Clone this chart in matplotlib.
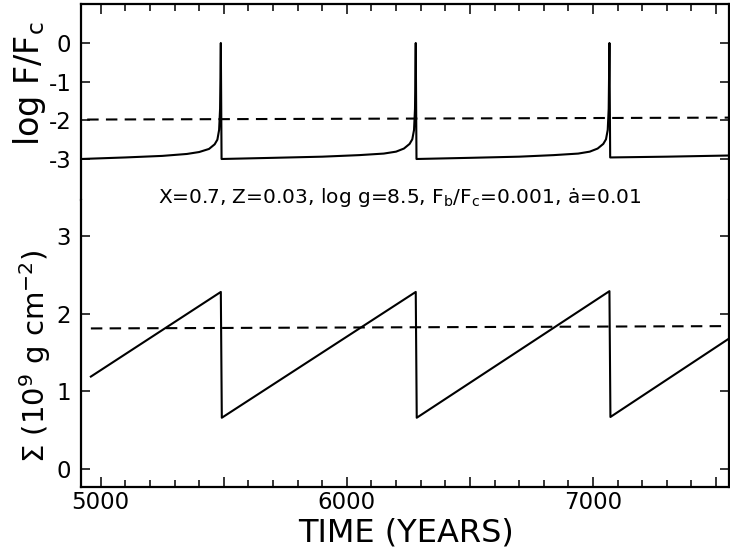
import matplotlib
matplotlib.use("Agg")
from matplotlib import pyplot as plt
from matplotlib.ticker import MultipleLocator, FuncFormatter

# log F/Fc (years, value)
flux_time = [4920, 5100, 5250, 5350, 5400, 5440, 5463, 5474, 5481, 5485, 5488, 5491,
             5700, 5900, 6050, 6150, 6200, 6232, 6255, 6266, 6273, 6277, 6280, 6283,
             6500, 6700, 6840, 6940, 6987, 7019, 7042, 7053, 7060, 7064, 7067, 7070,
             7300, 7553]
flux_log = [-3.00, -2.96, -2.92, -2.87, -2.82, -2.74, -2.62, -2.50, -2.25, -1.70, 0.00, -3.00,
            -2.97, -2.94, -2.90, -2.86, -2.81, -2.73, -2.61, -2.49, -2.25, -1.70, 0.00, -3.00,
            -2.97, -2.94, -2.90, -2.86, -2.81, -2.73, -2.61, -2.49, -2.25, -1.70, 0.00, -2.96,
            -2.94, -2.91]
flux_mean_time = [4945, 7553]
flux_mean = [-1.98, -1.93]

# column density Sigma (1e9 g cm^-2)
sigma_time = [4960, 5488, 5492, 6280, 6284, 7067, 7071, 7553]
sigma = [1.19, 2.28, 0.66, 2.28, 0.66, 2.29, 0.67, 1.68]
sigma_mean_time = [4960, 7553]
sigma_mean = [1.81, 1.84]

top_ticks = [0, -1, -2, -3]
bottom_ticks = [0, 1, 2, 3]
x_range = (4920, 7553)

note = "X=0.7, Z=0.03, log g=8.5, F$_\\mathregular{b}$/F$_\\mathregular{c}$=0.001, ȧ=0.01"


def style_axis(ax, top):
    ax.set_xlim(*x_range)
    ax.xaxis.set_major_locator(MultipleLocator(500))
    ax.xaxis.set_minor_locator(MultipleLocator(100))
    ax.xaxis.set_major_formatter(FuncFormatter(lambda v, p: "%d" % v if v % 1000 == 0 else ""))
    for s in ax.spines.values():
        s.set_linewidth(1.6)
    ax.tick_params(axis="both", which="both", direction="in", width=1.1,
                   labelsize=16.5, pad=5)
    ax.tick_params(axis="x", which="major", length=7.5)
    ax.tick_params(axis="x", which="minor", length=5)
    ax.tick_params(axis="y", which="major", length=6.5, left=True, right=True, pad=7)
    if top:
        ax.spines["bottom"].set_visible(False)
        ax.tick_params(axis="x", which="both", top=True, bottom=False, labelbottom=False)
    else:
        ax.spines["top"].set_visible(False)
        ax.tick_params(axis="x", which="both", top=False, bottom=True, pad=3)


def main():
    plt.rcParams["axes.unicode_minus"] = False
    plt.rcParams["font.family"] = "DejaVu Sans"

    fig = plt.figure(figsize=(7.3, 5.5), dpi=100)
    ax1 = fig.add_axes([0.1110, 0.6364, 0.8877, 0.3563])
    ax2 = fig.add_axes([0.1110, 0.1145, 0.8877, 0.5219])

    ax1.plot(flux_time, flux_log, color="black", lw=1.5)
    ax1.plot(flux_mean_time, flux_mean, color="black", lw=1.5, dashes=(5.5, 3.5))
    ax1.set_ylim(-4.06, 1.008)
    ax1.set_yticks(top_ticks)
    style_axis(ax1, True)

    ax2.plot(sigma_time, sigma, color="black", lw=1.5)
    ax2.plot(sigma_mean_time, sigma_mean, color="black", lw=1.5, dashes=(5.5, 3.5))
    ax2.set_ylim(-0.232, 3.464)
    ax2.set_yticks(bottom_ticks)
    style_axis(ax2, False)

    fig.text(30 / 730, 1 - 84 / 550, "log F/F$_\\mathregular{c}$", rotation=90,
             ha="center", va="center", fontsize=24)
    fig.text(35 / 730, 1 - 356 / 550, "Σ (10$^\\mathregular{9}$ g cm$^\\mathregular{-2}$)",
             rotation=90, ha="center", va="center", fontsize=21)
    fig.text(400 / 730, 1 - 203 / 550, note, ha="center", va="baseline", fontsize=14.5)
    fig.text(406 / 730, 1 - 541 / 550, "TIME (YEARS)", ha="center", va="baseline",
             fontsize=23)

    fig.savefig("out.png", dpi=100)


main()
